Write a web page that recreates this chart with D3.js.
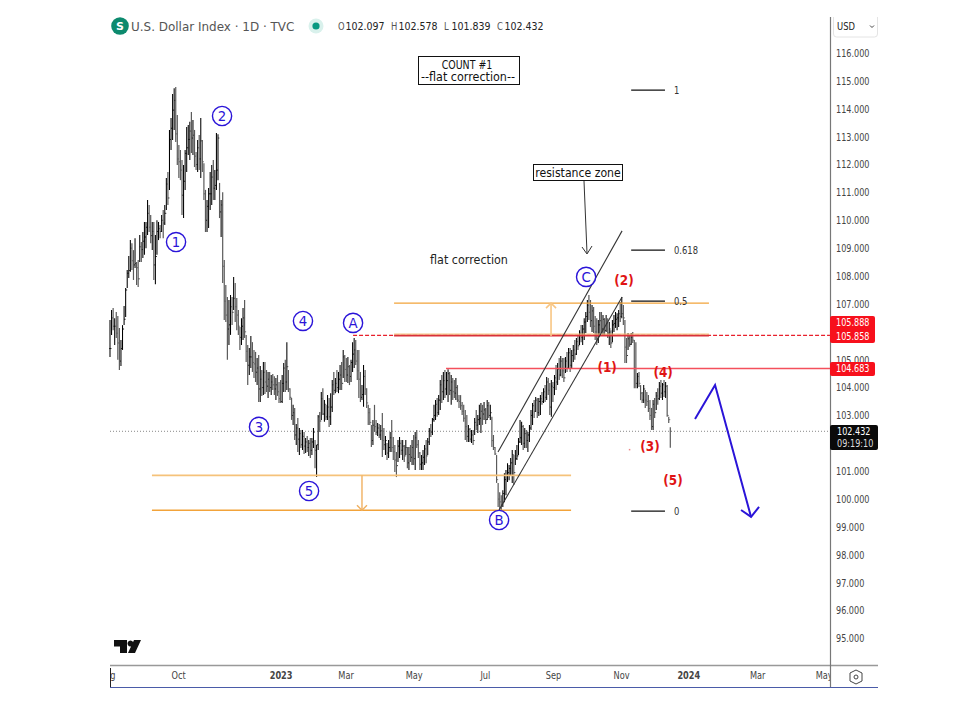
<!DOCTYPE html>
<html lang="en">
<head>
    <meta charset="UTF-8">
    <title>U.S. Dollar Index - Count #1</title>
    <style>
        body { margin: 0; background: #fff; }
        svg { display: block; }
        text { font-family: 'DejaVu Sans', sans-serif; }
    </style>
    <script src="https://cdnjs.cloudflare.com/ajax/libs/d3/7.8.5/d3.min.js"></script>
</head>
<body>
    <svg id="chart" width="978" height="704"></svg>
    <script>
        // daily bars (Aug 2022 - Dec 2023)
        const highs = [
            106.42,106.78,106.85,106.49,106.71,106.57,106.14,105.71,106.24,106.93,
            107.57,108.22,108.72,109.29,109.18,108.93,109.36,108.50,108.58,109.47,
            109.22,109.58,109.94,109.94,110.73,110.55,110.19,109.94,109.94,109.47,
            110.00,109.94,109.83,110.19,110.37,110.55,111.52,111.73,113.24,113.67,
            114.53,114.74,114.78,113.78,112.70,112.52,112.16,111.98,112.52,113.35,
            113.42,113.53,113.88,113.60,113.24,112.45,112.88,113.06,113.67,112.88,
            112.05,111.09,110.73,111.16,111.73,111.98,112.16,111.80,113.13,113.09,
            111.34,110.73,111.01,108.58,107.68,107.25,107.14,107.32,107.25,107.97,
            107.75,107.21,106.78,106.17,106.49,106.85,107.14,105.89,105.53,105.42,
            105.85,105.63,105.35,105.28,105.06,105.17,104.77,104.63,104.92,104.92,
            104.63,104.56,104.56,104.45,104.49,104.41,104.34,104.45,104.20,104.27,
            104.45,104.88,105.00,105.63,104.63,103.98,103.63,103.38,103.27,102.69,
            102.91,102.55,102.48,102.48,102.41,102.19,102.26,102.12,102.19,102.19,
            102.55,102.12,101.94,103.02,103.12,103.84,103.98,103.55,103.38,103.73,
            103.63,103.80,104.27,104.56,104.34,104.63,104.56,104.81,104.92,105.35,
            105.17,105.06,105.10,104.81,105.00,105.63,105.78,105.71,105.35,105.35,
            104.56,104.09,104.81,104.63,103.98,103.38,103.27,102.66,102.84,103.38,
            102.84,102.73,102.69,102.66,103.09,102.55,102.26,102.01,102.12,102.41,
            102.84,102.23,101.94,101.69,102.12,102.23,102.12,102.12,101.94,102.12,
            101.87,101.87,101.94,102.12,102.30,102.41,102.48,102.12,101.69,101.58,
            101.76,101.94,102.12,102.19,102.55,102.69,102.91,103.38,103.55,103.63,
            103.73,104.27,104.45,104.56,104.63,104.56,104.66,104.56,104.45,104.34,
            104.27,104.34,104.09,103.73,103.73,103.48,103.38,103.20,103.02,102.66,
            102.55,102.48,102.48,102.91,103.20,103.02,103.38,103.45,103.38,103.48,
            103.27,103.55,103.48,103.38,102.95,102.30,101.87,101.58,100.58,100.25,
            100.14,100.32,100.93,101.04,101.29,101.22,101.47,101.76,101.58,101.76,
            101.94,102.19,102.84,102.77,102.66,102.55,102.48,102.41,102.66,103.20,
            103.45,103.55,103.66,103.63,103.63,103.73,103.84,103.98,104.09,104.38,
            104.34,104.16,104.27,104.20,104.45,104.81,104.88,105.06,105.13,105.06,
            105.06,105.10,105.28,105.42,105.42,105.35,105.53,105.71,105.78,105.89,
            106.06,106.24,106.24,106.49,106.71,107.14,107.32,107.14,106.96,106.89,
            106.57,106.49,106.42,106.71,106.71,106.60,106.49,106.60,106.49,106.35,
            106.06,106.42,106.60,106.71,106.67,106.78,107.07,107.25,106.96,106.42,
            105.78,105.96,105.89,105.96,105.99,105.71,105.63,104.52,104.56,104.09,
            103.84,104.09,103.91,103.84,103.73,103.55,103.27,103.55,103.63,103.84,
            103.98,104.20,104.27,104.16,104.27,104.20,104.09,102.95,102.578
        ];
        const lows = [
            105.10,105.89,106.06,105.53,105.78,105.00,104.63,104.77,105.35,106.24,
            106.53,107.57,107.93,108.15,108.22,107.86,108.29,107.68,107.61,108.50,
            108.50,108.65,108.76,109.00,109.47,109.58,109.18,108.93,107.86,107.71,
            108.76,109.29,109.36,109.58,109.36,109.83,110.37,110.55,111.09,112.52,
            112.88,113.24,112.81,111.98,111.52,111.44,110.19,110.08,111.09,111.73,
            112.34,112.16,112.41,112.34,111.91,111.80,111.73,111.80,111.52,111.73,
            110.73,109.58,109.58,109.72,110.37,110.55,110.73,110.73,111.09,111.44,
            110.08,109.40,107.75,106.42,106.35,105.00,105.53,105.89,106.24,106.78,
            106.35,106.06,105.89,105.35,105.53,105.71,105.78,104.92,104.09,104.45,
            104.70,104.56,104.34,104.20,104.09,103.48,103.48,103.70,103.73,103.77,
            103.84,103.63,103.84,103.73,103.91,103.73,103.55,103.70,103.45,103.45,
            103.45,103.84,103.84,103.91,103.84,103.55,102.84,102.66,102.12,101.94,
            101.69,101.58,101.83,101.76,101.62,101.65,101.69,101.55,101.47,101.58,
            101.83,101.11,100.79,101.76,102.41,102.84,103.02,102.77,102.84,102.84,
            102.59,102.66,103.12,103.73,103.80,103.84,103.80,103.91,103.91,104.34,
            104.20,104.20,104.16,104.09,104.20,104.56,104.70,104.81,104.27,103.63,
            103.48,103.55,103.31,103.73,103.27,102.66,102.66,101.87,101.94,102.41,
            102.30,102.26,102.19,102.12,101.51,101.76,101.58,101.40,101.47,101.69,
            101.69,101.40,100.97,100.79,101.33,101.47,101.58,101.40,101.33,101.58,
            101.11,101.04,101.33,101.22,101.22,101.04,101.83,101.47,101.04,101.04,
            101.04,101.22,101.29,101.58,101.94,102.23,102.30,102.77,102.84,102.95,
            103.02,103.20,103.45,103.55,103.63,103.73,103.48,103.73,103.38,103.55,
            103.63,103.55,103.48,103.27,103.20,103.02,102.77,102.12,102.05,102.05,
            102.05,102.01,101.94,102.30,102.48,102.37,102.66,102.37,102.66,102.84,
            102.69,102.84,102.91,102.84,101.87,101.76,101.58,100.58,99.72,99.60,
            99.60,99.72,99.89,100.14,100.61,100.68,100.86,100.58,100.51,101.22,
            101.40,101.58,102.01,101.94,101.76,101.83,101.83,101.69,102.05,102.48,
            102.66,102.91,103.12,102.91,102.98,103.02,103.38,103.45,103.48,103.55,
            103.73,103.02,102.95,103.48,103.73,103.91,104.09,104.27,104.41,104.34,
            104.20,104.52,104.56,104.70,104.56,104.70,104.92,105.00,105.17,105.35,
            105.53,105.63,105.53,105.71,105.96,106.35,106.42,106.17,105.99,105.96,
            105.71,105.53,105.60,105.89,105.96,105.89,105.85,105.99,105.78,105.53,
            105.42,105.63,105.99,106.14,106.06,106.17,106.35,106.49,106.24,104.88,
            104.88,105.35,105.46,105.53,105.60,103.98,103.98,103.98,104.02,103.55,
            103.45,103.45,103.27,103.34,103.12,102.84,102.48,102.48,102.91,103.20,
            103.38,103.55,103.63,103.55,103.66,103.63,102.95,102.73,101.839
        ];
        const closes = [
            105.40,106.50,106.20,106.20,105.95,105.60,104.95,105.40,106.10,106.45,
            107.50,108.10,108.20,109.00,108.55,108.40,108.45,108.30,107.90,109.05,
            108.95,109.25,109.40,109.75,110.25,109.75,109.45,109.60,108.40,108.70,
            109.60,109.70,109.60,110.00,109.90,110.25,111.30,110.80,112.90,113.30,
            113.95,114.30,113.10,112.20,112.10,111.80,110.90,111.40,112.40,112.60,
            112.90,113.20,112.95,113.05,112.30,112.00,112.60,112.20,112.85,112.10,
            110.95,110.00,110.50,110.95,110.95,111.55,111.15,111.25,111.80,112.95,
            110.30,110.55,108.35,107.10,106.60,106.10,106.25,106.90,106.70,107.20,
            106.90,106.60,106.20,105.80,106.20,106.50,106.00,105.30,104.80,105.10,
            105.10,104.90,104.85,104.55,104.70,103.95,104.30,104.00,104.55,104.20,
            104.05,104.30,104.00,104.20,104.10,103.95,104.10,103.85,103.60,103.50,
            104.15,104.70,104.20,104.75,103.95,103.65,103.00,103.10,102.30,102.55,
            102.15,102.35,101.95,102.25,101.90,102.05,101.85,102.00,101.75,102.05,
            102.40,101.75,101.95,102.95,102.80,103.60,103.05,103.40,102.95,103.30,
            102.95,103.30,104.10,103.90,104.15,104.00,104.30,104.45,104.15,105.10,
            104.65,104.45,104.75,104.40,104.90,105.20,105.35,104.95,104.60,104.30,
            103.65,103.75,104.40,103.95,103.45,103.10,102.75,102.10,102.65,102.60,
            102.40,102.55,102.30,102.45,102.10,101.95,102.10,101.65,101.85,102.20,
            101.85,101.70,101.40,101.20,101.90,102.00,101.75,101.90,101.55,101.85,
            101.30,101.60,101.50,101.85,101.45,102.20,101.95,101.65,101.25,101.30,
            101.50,101.80,101.55,102.05,102.45,102.40,102.85,103.00,103.40,103.10,
            103.55,104.10,103.85,104.25,103.95,104.25,104.50,103.90,104.20,103.85,
            103.80,104.00,103.55,103.50,103.35,103.15,102.90,102.60,102.25,102.50,
            102.15,102.30,102.10,102.75,102.65,102.85,102.90,103.15,103.05,103.20,
            102.85,103.35,103.00,103.10,102.10,101.85,101.62,100.70,100.00,99.90,
            99.80,100.20,100.70,100.85,100.95,101.10,101.30,101.60,100.95,101.45,
            101.55,102.05,102.20,102.60,102.00,102.35,102.10,102.30,102.55,103.00,
            103.35,103.15,103.55,103.10,103.50,103.60,103.50,103.85,103.65,104.20,
            103.90,103.30,104.05,104.00,104.35,104.20,104.65,104.45,104.95,104.60,
            104.35,104.95,104.70,105.25,104.80,105.15,105.35,105.20,105.65,105.50,
            105.95,105.80,106.10,106.35,106.55,106.95,106.70,106.40,106.75,106.20,
            106.00,105.75,106.25,106.40,106.10,106.45,106.05,106.30,105.95,106.10,
            105.60,106.25,106.30,106.45,106.50,106.65,106.55,106.65,106.50,105.45,
            105.15,105.75,105.55,105.80,105.70,104.70,104.15,104.40,104.15,103.80,
            103.55,103.95,103.55,103.50,103.25,103.00,102.60,103.40,103.10,103.70,
            103.60,104.05,103.80,104.10,103.85,104.05,103.00,102.85,102.432
        ];

        // 102 and 106 sit under the price tags in the original, so they are left out
        const priceTicks = [95, 96, 97, 98, 99, 100, 101, 103, 104, 105, 107, 108, 109, 110, 111, 112, 113, 114, 115, 116];
        const timeLabels = ["Aug", "Oct", "2023", "Mar", "May", "Jul", "Sep", "Nov", "2024", "Mar", "May"];
        const timeBars = [-2, 43.5, 109, 150.5, 194, 239.5, 283, 326.5, 369.5, 413.5, 456];

        // elliott wave labels: text, bar, price
        const circledLabels = ["1", "2", "3", "4", "5", "A", "B", "C"];
        const circledBars = [42.2, 71.6, 95.2, 123.3, 127.2, 155.3, 248.6, 304.2];
        const circledPrices = [109.22, 113.74, 102.59, 106.39, 100.29, 106.32, 99.25, 107.97];
        const redLabels = ["(1)", "(2)", "(3)", "(4)", "(5)"];
        const redBars = [317.6, 328.4, 345, 353.4, 359.7];
        const redPrices = [104.74, 107.86, 101.9, 104.56, 100.68];

        const fibLabels = ["1", "0.618", "0.5", "0"];
        const fibPrices = [114.67, 108.93, 107.1, 99.57];

        const channelLower = [[248.6, 99.61], [327.2, 107.25]];
        const channelUpper = [[247.9, 101.69], [327.2, 109.62]];
        const forecastPath = [[373.8, 102.87], [386.6, 104.09], [409.6, 99.36]];
        const forecastHead = [[403.2, 99.61], [409.6, 99.36], [414.7, 99.72]];

        const width = 978, height = 704;
        const svg = d3.select("#chart");

        // bars are evenly spaced, weekends do not take room
        const x = d3.scaleLinear().domain([0, 358]).range([110, 670.3]);
        const y = d3.scaleLinear().domain([116, 95]).range([53, 638.5]);
        const axisX = 830, timeY = 665;

        const gray = "#5a5a5a";
        const orange = "#f2a33a";
        const red = "#f4505c";
        const blue = "#2a14d8";

        svg.append("rect").attr("width", width).attr("height", height).attr("fill", "#fff");

        // the fonts here run wider than the original, so narrow the text a bit
        function squeeze(sel, k) {
            sel.each(function () {
                this.setAttribute("textLength", this.getComputedTextLength() * k);
                this.setAttribute("lengthAdjust", "spacingAndGlyphs");
            });
            return sel;
        }

        function label(txt, px, py, size, opts) {
            opts = opts || {};
            const t = svg.append("text")
                .attr("x", px)
                .attr("y", py)
                .attr("dy", ".36em")
                .attr("font-size", size)
                .attr("font-weight", opts.weight || "normal")
                .attr("text-anchor", opts.anchor || "middle")
                .attr("fill", opts.fill || "#222")
                .text(txt);
            return squeeze(t, opts.k || 0.84);
        }

        function hline(price, b0, b1, color, w, dash) {
            svg.append("line")
                .attr("x1", x(b0)).attr("x2", x(b1))
                .attr("y1", y(price)).attr("y2", y(price))
                .attr("stroke", color)
                .attr("stroke-width", w)
                .attr("stroke-dasharray", dash || null);
        }

        const pathLine = d3.line().x(d => x(d[0])).y(d => y(d[1]));

        function arrowV(bar, p0, p1, color, w) {
            const dir = p1 > p0 ? 1 : -1;
            svg.append("line")
                .attr("x1", x(bar)).attr("x2", x(bar))
                .attr("y1", y(p0)).attr("y2", y(p1))
                .attr("stroke", color).attr("stroke-width", w);
            svg.append("path")
                .attr("d", `M${x(bar) - 5},${y(p1) + dir * 5}L${x(bar)},${y(p1)}L${x(bar) + 5},${y(p1) + dir * 5}`)
                .attr("fill", "none").attr("stroke", color).attr("stroke-width", w);
        }

        // dotted last price line
        hline(102.432, 0, 461, "#888", 1, "1 2");

        // ohlc bars, open tick taken from the close before
        const bars = svg.append("g");
        closes.forEach((c, i) => {
            const prev = i ? closes[i - 1] : c;
            const col = c >= prev ? "#000" : gray;
            const g = bars.append("g").attr("stroke", col).attr("stroke-width", c >= prev ? 1.05 : 1.2);
            g.append("line").attr("x1", x(i)).attr("x2", x(i)).attr("y1", y(highs[i])).attr("y2", y(lows[i]));
            g.append("line").attr("x1", x(i) - 1).attr("x2", x(i)).attr("y1", y(prev)).attr("y2", y(prev)).attr("stroke-width", .7);
            g.append("line").attr("x1", x(i)).attr("x2", x(i) + 1).attr("y1", y(c)).attr("y2", y(c)).attr("stroke-width", .7);
        });

        // support and resistance
        hline(107.03, 181.5, 382.7, orange, 1.3);
        hline(100.85, 26.8, 294.6, "#f5c27a", 1.6);
        hline(99.6, 26.8, 294.6, orange, 1.3);
        hline(105.87, 155.3, 461, "#e8202c", 1.2, "4 2");
        hline(105.87, 181.5, 382.7, "#d9303a", 2);
        hline(105.92, 181.5, 382.7, "#f5c27a", 1);
        hline(104.683, 214.7, 461, red, 1.5);
        arrowV(281.8, 105.85, 107.03, "#f8c684", 1.6);
        arrowV(161, 100.85, 99.6, "#f0b060", 1.4);

        // rising channel
        [channelLower, channelUpper].forEach(pts => {
            svg.append("path").attr("d", pathLine(pts))
                .attr("fill", "none").attr("stroke", "#333").attr("stroke-width", 1.1);
        });

        // fib levels
        fibLabels.forEach((t, i) => {
            hline(fibPrices[i], 333, 354.6, "#111", 1.1);
            label(t, 674, y(fibPrices[i]), 10, { anchor: "start", fill: "#333" });
        });

        // wave counts
        circledLabels.forEach((t, i) => {
            svg.append("circle")
                .attr("cx", x(circledBars[i])).attr("cy", y(circledPrices[i])).attr("r", 9.6)
                .attr("fill", "#fff").attr("fill-opacity", .6)
                .attr("stroke", blue).attr("stroke-width", 1.4);
            label(t, x(circledBars[i]), y(circledPrices[i]), 14, { fill: blue, k: 0.95 });
        });
        redLabels.forEach((t, i) => {
            label(t, x(redBars[i]), y(redPrices[i]), 14, { fill: "#e01414", weight: "bold", k: 0.86 });
        });
        svg.append("rect").attr("x", x(331.5)).attr("y", y(101.8)).attr("width", 1.5).attr("height", 1.5).attr("fill", "#e88");

        // forecast arrow
        [forecastPath, forecastHead].forEach(pts => {
            svg.append("path").attr("d", pathLine(pts))
                .attr("fill", "none").attr("stroke", blue).attr("stroke-width", 2);
        });

        // notes
        svg.append("rect").attr("x", 418.5).attr("y", 56.5).attr("width", 101).attr("height", 28)
            .attr("fill", "#fff").attr("stroke", "#111");
        label("COUNT #1", 467, 65, 11.5, { fill: "#111", k: 0.82 });
        label("--flat correction--", 468, 77, 11.5, { fill: "#111", k: 0.97 });
        label("flat correction", 469, 260, 11.5, { fill: "#222", k: 0.97 });
        svg.append("rect").attr("x", 533.5).attr("y", 164.5).attr("width", 89).attr("height", 16)
            .attr("fill", "#fff").attr("stroke", "#111");
        label("resistance zone", 578, 172.5, 11.5, { fill: "#111", k: 0.95 });
        svg.append("path").attr("d", "M584,181L587,253M582,247L587,254L592,246")
            .attr("fill", "none").attr("stroke", "#333").attr("stroke-width", 1);

        // price axis
        const yAxis = d3.axisRight(y).tickValues(priceTicks).tickSize(0).tickPadding(6).tickFormat(d3.format(".3f"));
        const yG = svg.append("g").attr("transform", `translate(${axisX},0)`).call(yAxis);
        yG.select(".domain").remove();
        yG.selectAll("text").attr("font-size", 10.5).attr("fill", "#444")
            .style("font-family", "'DejaVu Sans', sans-serif");
        squeeze(yG.selectAll("text"), 0.77);

        // time axis, labels get cut at both ends of the pane
        svg.append("clipPath").attr("id", "pane").append("rect")
            .attr("x", 111).attr("y", timeY).attr("width", axisX - 111).attr("height", 21);
        const xAxis = d3.axisBottom(x).tickValues(timeBars).tickSize(0).tickPadding(7)
            .tickFormat((d, i) => timeLabels[i]);
        const xG = svg.append("g").attr("clip-path", "url(#pane)")
            .append("g").attr("transform", `translate(0,${timeY})`).call(xAxis);
        xG.select(".domain").remove();
        xG.selectAll("text").attr("font-size", 10).attr("fill", "#444")
            .attr("font-weight", (d, i) => /^\d/.test(timeLabels[i]) ? "bold" : "normal")
            .style("font-family", "'DejaVu Sans', sans-serif");
        squeeze(xG.selectAll("text"), 0.82);

        // pane borders
        svg.append("line").attr("x1", 110).attr("x2", 878).attr("y1", timeY + .5).attr("y2", timeY + .5)
            .attr("stroke", "#999").attr("stroke-width", 1.4);
        svg.append("line").attr("x1", axisX + .5).attr("x2", axisX + .5).attr("y1", 17).attr("y2", 687)
            .attr("stroke", "#777").attr("stroke-width", 1.2);
        svg.append("line").attr("x1", 110).attr("x2", 878).attr("y1", 687.5).attr("y2", 687.5)
            .attr("stroke", "#4a5ba8").attr("stroke-width", 1.2);
        svg.append("line").attr("x1", 110.5).attr("x2", 110.5).attr("y1", 668).attr("y2", 687)
            .attr("stroke", "#222");

        // price tags
        function tag(y0, y1, color, x1) {
            svg.append("rect").attr("x", axisX).attr("y", y0).attr("width", (x1 || 875) - axisX).attr("height", y1 - y0)
                .attr("rx", 2).attr("fill", color);
        }
        tag(316, 343, "#f7101c");
        tag(362, 376, "#f7101c");
        tag(425, 450, "#0a0a0a", 878);
        label("105.888", 836, y(105.888) - 13, 10.5, { anchor: "start", fill: "#fff", k: 0.77 });
        label("105.858", 836, y(105.858) + .5, 10.5, { anchor: "start", fill: "#fff", k: 0.77 });
        label("104.683", 836, y(104.683), 10.5, { anchor: "start", fill: "#fff", k: 0.77 });
        label("102.432", 837, y(102.432), 10.5, { anchor: "start", fill: "#fff", k: 0.77 });
        label("09:19:10", 837, y(102.432) + 12, 10.5, { anchor: "start", fill: "#ddd", k: 0.77 });

        // currency button
        svg.append("rect").attr("x", 833.5).attr("y", 10).attr("width", 44).attr("height", 27).attr("rx", 3)
            .attr("fill", "#fff").attr("stroke", "#e4e4e4");
        svg.append("rect").attr("x", 832).attr("y", 0).attr("width", 47).attr("height", 17).attr("fill", "#fff");
        label("USD", 837, 26.5, 10.5, { anchor: "start", fill: "#222", k: 0.8 });
        svg.append("path").attr("d", "M870,25.5L872,27.5L874,25.5").attr("fill", "none").attr("stroke", "#444");

        // settings gear
        svg.append("path").attr("d", "M850,673L856,670L862,673L862,681L856,684L850,681Z")
            .attr("fill", "none").attr("stroke", "#444");
        svg.append("circle").attr("cx", 856).attr("cy", 677).attr("r", 2).attr("fill", "none").attr("stroke", "#444");

        // header
        svg.append("circle").attr("cx", 120).attr("cy", 26).attr("r", 8.8).attr("fill", "#0c8a6e");
        label("S", 120, 26, 11, { fill: "#fff", weight: "bold", k: 1 });
        label("U.S. Dollar Index · 1D · TVC", 131, 26.5, 13, { anchor: "start", fill: "#555", k: 0.92 });
        svg.append("circle").attr("cx", 316).attr("cy", 26).attr("r", 7.5).attr("fill", "#d9f1ec");
        svg.append("circle").attr("cx", 316).attr("cy", 26).attr("r", 3.6).attr("fill", "#089981");

        const legendNames = ["O", "H", "L", "C"];
        const legendValues = ["102.097", "102.578", "101.839", "102.432"];
        const legendStart = [338, 391, 444, 497];
        legendNames.forEach((n, i) => {
            label(n, legendStart[i], 26.5, 10.5, { anchor: "start", fill: "#555", k: 0.8 });
            label(legendValues[i], legendStart[i] + 7.5, 26.5, 10.5, { anchor: "start", fill: "#222", k: 0.9 });
        });

        // tv logo
        svg.append("path").attr("d", "M114,640H127V653H120V646.5H114ZM130.5,640.5A3,3 0 1 1 130.49,640.5ZM134,640H141L135,653H128Z")
            .attr("fill", "#111");
    </script>
</body>
</html>
